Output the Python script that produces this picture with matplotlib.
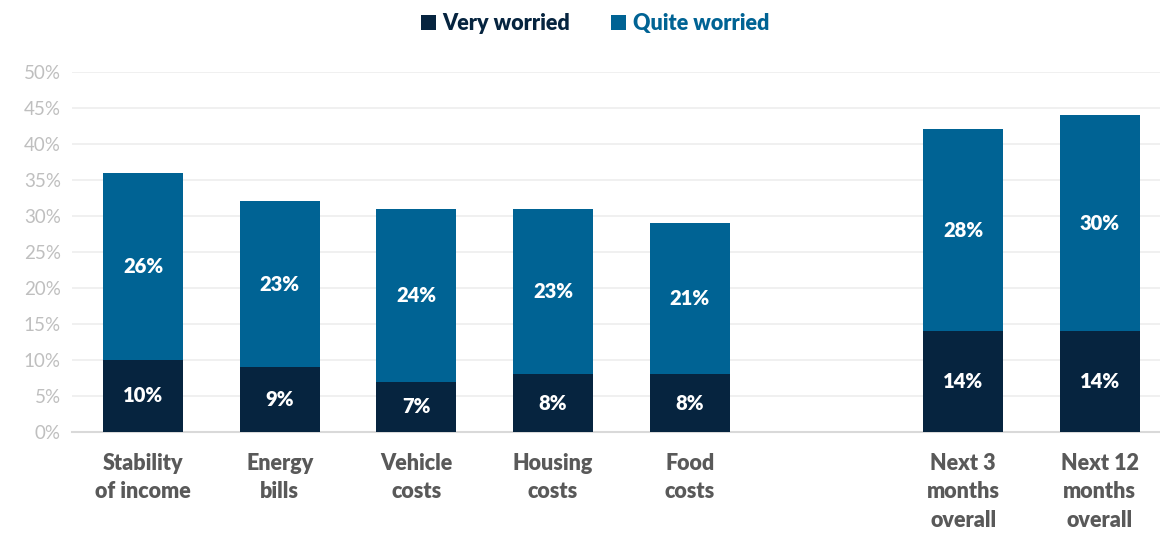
import numpy as np
import matplotlib.pyplot as plt

plt.rcParams['font.family'] = ['Lato', 'DejaVu Sans']

categories = ['Stability\nof income', 'Energy\nbills', 'Vehicle\ncosts', 'Housing\ncosts',
              'Food\ncosts', 'Next 3\nmonths\noverall', 'Next 12\nmonths\noverall']
positions = [0, 1, 2, 3, 4, 6, 7]
very_worried = [10, 9, 7, 8, 8, 14, 14]
quite_worried = [26, 23, 24, 23, 21, 28, 30]

dark = '#06243f'
blue = '#006394'

fig = plt.figure(figsize=(11.6, 5.36), dpi=100)
ax = fig.add_axes([0.062, 0.194, 0.938, 0.672])

b1 = ax.bar(positions, very_worried, width=0.585, color=dark, label='Very worried', zorder=3)
b2 = ax.bar(positions, quite_worried, width=0.585, bottom=very_worried, color=blue,
            label='Quite worried', zorder=3)

for x, v, q in zip(positions, very_worried, quite_worried):
    ax.text(x, v / 2, f'{v}%', ha='center', va='center', color='white',
            fontsize=14.5, fontweight='heavy', zorder=4)
    ax.text(x, v + q / 2, f'{q}%', ha='center', va='center', color='white',
            fontsize=14.5, fontweight='heavy', zorder=4)

ax.set_ylim(0, 50)
ax.set_xlim(-0.52, 7.44)
ax.set_yticks(np.arange(0, 51, 5))
ax.set_yticklabels([f'{t}%' for t in range(0, 51, 5)], color='#bfbfbf', fontsize=13.5)
ax.set_xticks(positions)
ax.set_xticklabels(categories, color='#595959', fontsize=15.5, fontweight='heavy',
                   linespacing=1.45)
ax.tick_params(axis='both', length=0)
ax.tick_params(axis='x', pad=15)
ax.tick_params(axis='y', pad=8)
ax.grid(axis='y', color='#eeeeee', linewidth=1.2, zorder=0)
for s in ['top', 'right', 'left']:
    ax.spines[s].set_visible(False)
ax.spines['bottom'].set_color('#d9d9d9')
ax.spines['bottom'].set_linewidth(1.5)

leg = fig.legend(handles=[b1, b2], loc='upper center', bbox_to_anchor=(0.513, 1.012), ncol=2,
                 frameon=False, handlelength=0.7, handleheight=0.7, handletextpad=0.3,
                 columnspacing=1.9, prop={'weight': 'heavy', 'size': 15.5})
for t, c in zip(leg.get_texts(), [dark, blue]):
    t.set_color(c)

fig.savefig('out.png', dpi=100)
